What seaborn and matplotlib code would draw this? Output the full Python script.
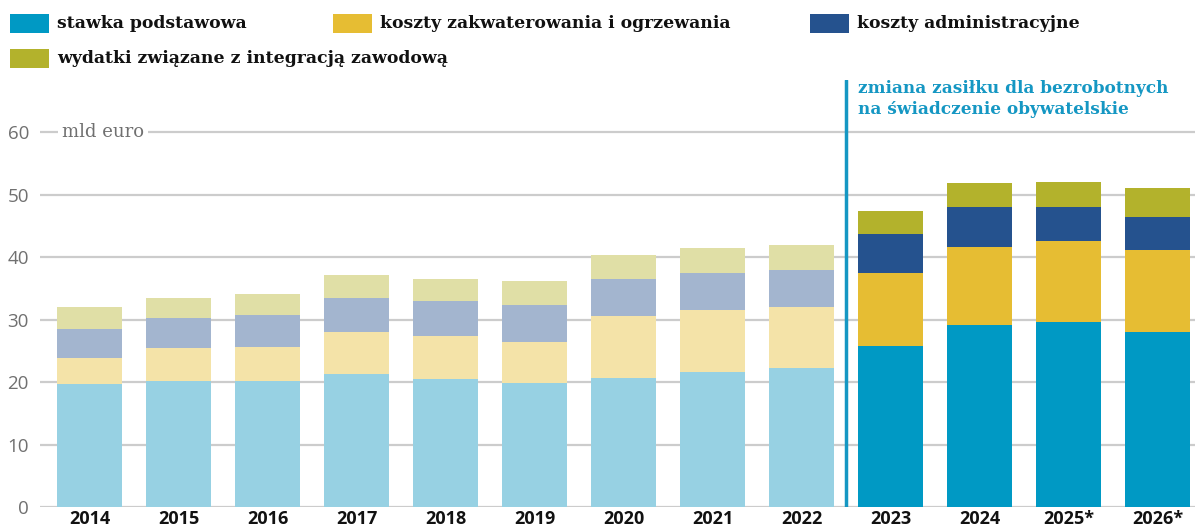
import matplotlib
matplotlib.use("Agg")
import matplotlib.pyplot as plt
from matplotlib.patches import Rectangle
import seaborn as sns
import pandas as pd
import numpy as np

years = ["2014", "2015", "2016", "2017", "2018", "2019", "2020", "2021", "2022",
         "2023", "2024", "2025*", "2026*"]
stawka = [19.7, 20.2, 20.2, 21.3, 20.45, 19.85, 20.6, 21.6, 22.3, 25.75, 29.15, 29.6, 28.0]
zakwaterowanie = [4.1, 5.3, 5.4, 6.7, 6.95, 6.55, 10.0, 10.0, 9.7, 11.7, 12.45, 13.0, 13.1]
administracja = [4.7, 4.8, 5.2, 5.4, 5.6, 5.9, 5.9, 5.9, 6.0, 6.25, 6.4, 5.4, 5.3]
integracja = [3.55, 3.2, 3.3, 3.8, 3.5, 3.9, 3.9, 4.0, 4.0, 3.7, 3.9, 4.1, 4.7]

series_labels = ["stawka podstawowa", "koszty zakwaterowania i ogrzewania",
                 "koszty administracyjne", "wydatki związane z integracją zawodową"]
colors_new = ["#0099c4", "#e6bd33", "#25528e", "#b3b22c"]
colors_old = ["#97d1e3", "#f4e3a8", "#a3b5cf", "#e0dfa6"]
n_old = 9  # years before the reform

annotation = "zmiana zasiłku dla bezrobotnych\nna świadczenie obywatelskie"
unit_label = "mld euro"

W, H = 1195, 530
sns.set_theme(style="white")
plt.rcParams["font.family"] = ["Open Sans", "DejaVu Sans"]

df = pd.DataFrame({"year": years, "s0": stawka, "s1": zakwaterowanie,
                   "s2": administracja, "s3": integracja})
cum = np.cumsum(df[["s0", "s1", "s2", "s3"]].values, axis=1)
for i in range(4):
    df[f"c{i}"] = cum[:, i]

fig = plt.figure(figsize=(W / 100, H / 100), dpi=100)
ax = fig.add_axes([40 / W, (H - 507) / H, (W - 40) / W, (507 - 80) / H])

for i in reversed(range(4)):
    pal = {y: (colors_old[i] if k < n_old else colors_new[i]) for k, y in enumerate(years)}
    sns.barplot(data=df, x="year", y=f"c{i}", hue="year", palette=pal, order=years,
                hue_order=years, width=0.73, linewidth=0, legend=False, ax=ax,
                saturation=1, zorder=2)

ax.set_xlim(-0.556, 12.42)
ax.set_ylim(0, 68.4)
ax.set_yticks([0, 10, 20, 30, 40, 50, 60])
ax.set_xlabel("")
ax.set_ylabel("")
for s in ax.spines.values():
    s.set_visible(False)
ax.yaxis.grid(True, color="#cccccc", linewidth=1.6, zorder=0)
ax.set_axisbelow(True)
ax.tick_params(axis="y", length=0, pad=8, labelsize=13.5, labelcolor="#707070")
ax.tick_params(axis="x", length=0, pad=2, labelsize=13)
for lab in ax.get_xticklabels():
    lab.set_fontweight("bold")
    lab.set_color("#111111")

ax.axvline(8.5, ymin=0, ymax=1, color="#1597c3", linewidth=2.5, zorder=3)

ax.text(-0.31, 60, unit_label, fontsize=13, family="DejaVu Serif", color="#707070",
        va="center", ha="left", zorder=4,
        bbox=dict(facecolor="white", edgecolor="none", pad=3))

fig.text(858 / W, 1 - 99 / H, annotation, fontsize=12.2, family="DejaVu Serif",
         fontweight="bold", color="#1597c3", va="center", ha="left", linespacing=1.3)

legend_pos = [(10, 14), (333, 14), (810, 14), (10, 49)]
for (x, y), lab, c in zip(legend_pos, series_labels, colors_new):
    fig.add_artist(Rectangle((x / W, 1 - (y + 19) / H), 39 / W, 19 / H,
                             facecolor=c, edgecolor="none", transform=fig.transFigure))
    fig.text((x + 47) / W, 1 - (y + 9.5) / H, lab, fontsize=12.4, family="DejaVu Serif",
             fontweight="bold", color="#111111", va="center", ha="left")

fig.savefig("out.png", dpi=100)
